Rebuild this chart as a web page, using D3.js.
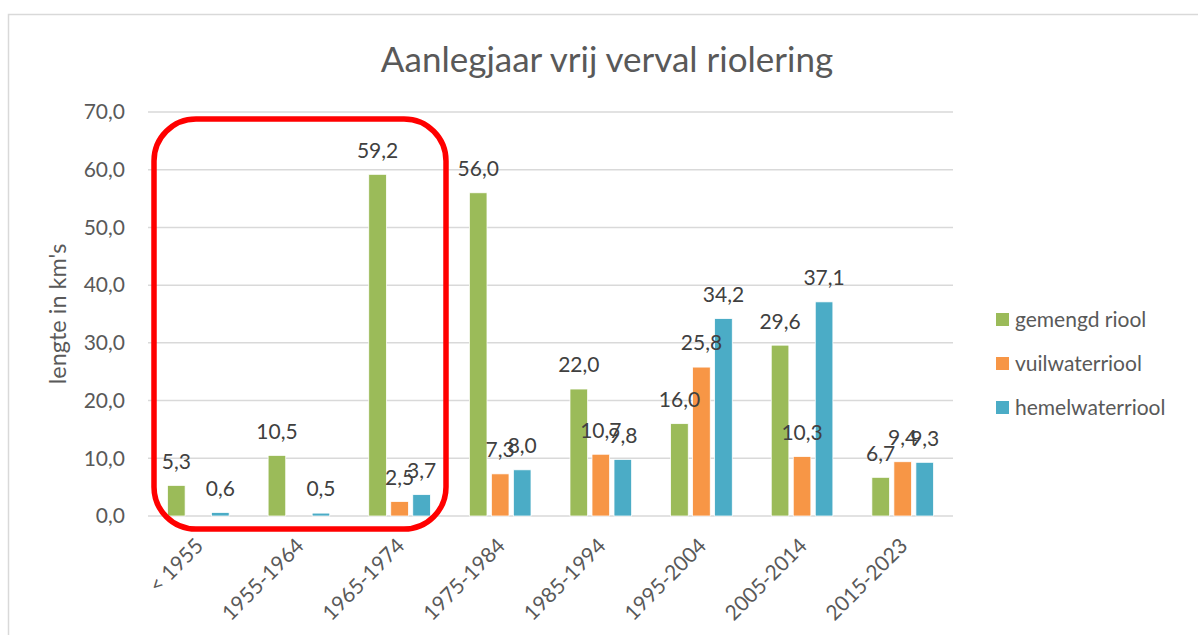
<html>
<head>
<meta charset="utf-8">
<title>Aanlegjaar vrij verval riolering</title>
<style>
  body { margin: 0; background: #fff; }
  text { font-family: Lato, "Open Sans", sans-serif; }
</style>
</head>
<body>
<svg id="chart" width="1198" height="635"></svg>
<script src="https://cdnjs.cloudflare.com/ajax/libs/d3/7.8.5/d3.min.js"></script>
<script>
var categories = ["< 1955", "1955-1964", "1965-1974", "1975-1984", "1985-1994", "1995-2004", "2005-2014", "2015-2023"];
var seriesNames = ["gemengd riool", "vuilwaterriool", "hemelwaterriool"];
var gemengd = [5.3, 10.5, 59.2, 56.0, 22.0, 16.0, 29.6, 6.7];
var vuilwater = [null, null, 2.5, 7.3, 10.7, 25.8, 10.3, 9.4];
var hemelwater = [0.6, 0.5, 3.7, 8.0, 9.8, 34.2, 37.1, 9.3];
var yTicks = [0, 10, 20, 30, 40, 50, 60, 70];
var colors = ["#9bbb59", "#f79646", "#4bacc6"];

var seriesValues = [gemengd, vuilwater, hemelwater];

var svg = d3.select("#chart");
var plot = {left: 148, right: 953, top: 112, bottom: 516};

var nl = d3.formatLocale({decimal: ",", thousands: ".", grouping: [3], currency: ["€", ""]});
var fmt = nl.format(".1f");

var x0 = d3.scaleBand().domain(categories).range([plot.left, plot.right]);
var x1 = d3.scaleBand().domain(seriesNames).range([0, x0.bandwidth()])
  .paddingInner(0.2).paddingOuter(0.886);
var y = d3.scaleLinear().domain([0, 70]).range([plot.bottom, plot.top]);

// chart frame
svg.append("path")
  .attr("d", "M8.5,700 L8.5,14.5 L1200,14.5")
  .attr("fill", "none").attr("stroke", "#d9d9d9").attr("stroke-width", 1.5);

// title
svg.append("text")
  .attr("x", 607).attr("y", 72)
  .attr("text-anchor", "middle")
  .attr("font-size", 35).attr("fill", "#595959")
  .text("Aanlegjaar vrij verval riolering");

// gridlines
svg.append("g").selectAll("line").data(yTicks).enter().append("line")
  .attr("x1", plot.left).attr("x2", plot.right)
  .attr("y1", function(d) { return y(d); }).attr("y2", function(d) { return y(d); })
  .attr("stroke", "#d9d9d9").attr("stroke-width", 1.5);

// y axis labels
svg.append("g").selectAll("text").data(yTicks).enter().append("text")
  .attr("x", 125).attr("y", function(d) { return y(d); })
  .attr("dy", "0.35em").attr("text-anchor", "end")
  .attr("font-size", 21).attr("fill", "#595959")
  .text(function(d) { return fmt(d); });

svg.append("text")
  .attr("transform", "translate(66,314) rotate(-90)")
  .attr("text-anchor", "middle")
  .attr("font-size", 23.5).attr("fill", "#595959")
  .text("lengte in km's");

// bars
var rows = [];
categories.forEach(function(c, i) {
  seriesNames.forEach(function(s, j) {
    if (seriesValues[j][i] != null) rows.push({cat: c, s: s, j: j, v: seriesValues[j][i]});
  });
});

svg.append("g").selectAll("rect").data(rows).enter().append("rect")
  .attr("x", function(d) { return x0(d.cat) + x1(d.s); })
  .attr("width", x1.bandwidth())
  .attr("y", function(d) { return y(d.v); })
  .attr("height", function(d) { return plot.bottom - y(d.v); })
  .attr("fill", function(d) { return colors[d.j]; })
  .attr("stroke", "#fff").attr("stroke-width", 0.75);

// data labels
svg.append("g").selectAll("text").data(rows).enter().append("text")
  .attr("x", function(d) { return x0(d.cat) + x1(d.s) + x1.bandwidth() / 2; })
  .attr("y", function(d) { return y(d.v) - 24; })
  .attr("dy", "0.35em").attr("text-anchor", "middle")
  .attr("font-size", 21).attr("fill", "#404040")
  .text(function(d) { return fmt(d.v); });

// x labels
svg.append("g").selectAll("text").data(categories).enter().append("text")
  .attr("transform", function(d) {
    return "translate(" + (x0(d) + x0.bandwidth() / 2 + 1) + "," + (plot.bottom + 26) + ") rotate(-45)";
  })
  .attr("dy", "0.35em").attr("text-anchor", "end")
  .attr("font-size", 21).attr("fill", "#595959")
  .text(function(d) { return d; });

// legend
var legend = svg.append("g").selectAll("g").data(seriesNames).enter().append("g")
  .attr("transform", function(d, i) { return "translate(996," + (320 + i * 44) + ")"; });
legend.append("rect")
  .attr("x", 0).attr("y", -7).attr("width", 13).attr("height", 13)
  .attr("fill", function(d, i) { return colors[i]; });
legend.append("text")
  .attr("x", 19).attr("dy", "0.35em")
  .attr("font-size", 21).attr("fill", "#595959")
  .text(function(d) { return d; });

// red highlight around first three periods
svg.append("rect")
  .attr("x", 154).attr("y", 119)
  .attr("width", 292).attr("height", 410)
  .attr("rx", 42).attr("ry", 42)
  .attr("fill", "none").attr("stroke", "#ff0000").attr("stroke-width", 5.5);
</script>
</body>
</html>
